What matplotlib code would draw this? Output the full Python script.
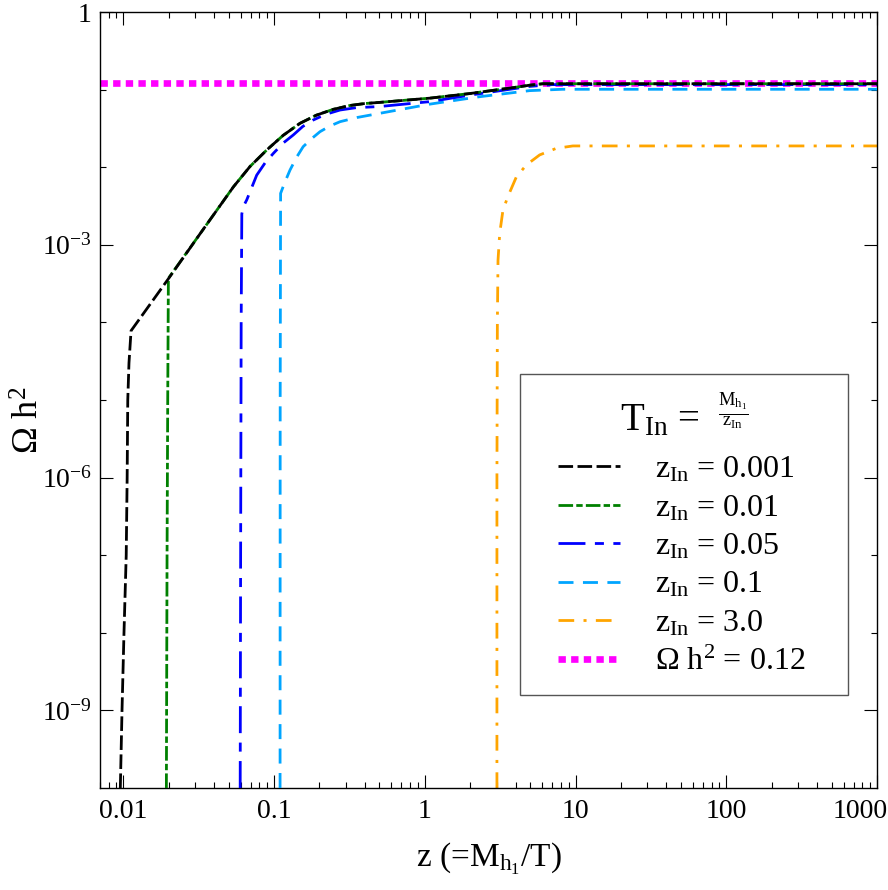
import numpy as np
import matplotlib
matplotlib.use("Agg")
import matplotlib.pyplot as plt
from matplotlib.ticker import FixedLocator, NullFormatter, LogLocator
from matplotlib.patches import Rectangle
import matplotlib.transforms as mtransforms

plt.rcParams['font.family'] = ['Liberation Serif', 'DejaVu Serif']
plt.rcParams['mathtext.fontset'] = 'custom'
plt.rcParams['mathtext.rm'] = 'Liberation Serif'
plt.rcParams['mathtext.it'] = 'Liberation Serif:italic'
plt.rcParams['mathtext.bf'] = 'Liberation Serif:bold'
plt.rcParams['lines.scale_dashes'] = False

# ---------------- data ----------------
z_001 = [0.00955, 0.0098, 0.0101, 0.01045, 0.0106, 0.0107, 0.0109, 0.01125,
         0.0200, 0.0324, 0.0538, 0.0692, 0.0895, 0.1148, 0.1486, 0.1905,
         0.247, 0.318, 0.398, 0.5, 1.08, 2.0, 3.98, 4.96, 6.07, 7.94, 100, 1000]
om_001 = [1e-10, 1e-9, 1e-8, 1e-7, 1e-6, 1e-5, 3e-5, 7.8e-5,
          3.7e-4, 1.4e-3, 5.6e-3, 0.0102, 0.0167, 0.0257, 0.0368, 0.0468,
          0.0557, 0.0624, 0.0661, 0.0684, 0.0776, 0.0891, 0.107, 0.114, 0.119,
          0.119, 0.119, 0.119]

z_01 = [0.0193, 0.0195, 0.0197, 0.0199, 0.0324, 0.0538, 0.0692, 0.0895,
        0.1148, 0.1486, 0.1905, 0.247, 0.318, 0.398, 0.5, 1.08, 2.0, 3.98,
        4.96, 6.07, 7.94, 100, 1000]
om_01 = [1e-10, 1e-7, 1e-5, 3.7e-4, 1.4e-3, 5.6e-3, 0.0102, 0.0167,
         0.0257, 0.0368, 0.0468, 0.0557, 0.0624, 0.0661, 0.0684, 0.0776,
         0.0891, 0.107, 0.114, 0.119, 0.119, 0.119, 0.119]

z_05 = [0.0596, 0.0600, 0.0605, 0.0611, 0.0625, 0.0659, 0.0767, 0.0875,
        0.0990, 0.115, 0.134, 0.155, 0.182, 0.22, 0.274, 0.35, 0.5, 1.08,
        2.0, 4.96, 7.0, 100, 1000]
om_05 = [1e-10, 1e-7, 1e-4, 2.5e-3, 3.1e-3, 3.8e-3, 7.9e-3, 0.0115,
         0.0151, 0.0205, 0.026, 0.0335, 0.0406, 0.048, 0.0546, 0.0585,
         0.0605, 0.070, 0.085, 0.110, 0.116, 0.116, 0.116]

z_1 = [0.1096, 0.1098, 0.1105, 0.1175, 0.1276, 0.1413, 0.156, 0.1778,
       0.2017, 0.2344, 0.274, 0.355, 0.503, 1.08, 2.31, 4.96, 8.2, 100, 1000]
om_1 = [1e-10, 1e-5, 4.6e-3, 6.3e-3, 9.2e-3, 0.0135, 0.0184, 0.0234,
        0.0287, 0.0339, 0.0386, 0.0437, 0.0495, 0.065, 0.081, 0.097, 0.101,
        0.101, 0.101]

z_3 = [3.01, 3.01, 3.03, 3.06, 3.14, 3.30, 3.56, 4.05, 4.72, 5.78, 7.45,
       9.60, 100, 1000]
om_3 = [1e-10, 1e-6, 1e-4, 6.3e-4, 1.4e-3, 2.8e-3, 4.2e-3, 7.5e-3, 0.0107,
        0.0144, 0.0175, 0.0188, 0.0188, 0.0188]

omega_planck = 0.12

series_labels = [r'$\mathrm{z_{In}}$ = 0.001', r'$\mathrm{z_{In}}$ = 0.01',
                 r'$\mathrm{z_{In}}$ = 0.05', r'$\mathrm{z_{In}}$ = 0.1',
                 r'$\mathrm{z_{In}}$ = 3.0', r'$\Omega$ h$^{2}$ = 0.12']

x_ticks = [0.01, 0.1, 1, 10, 100, 1000]
x_tick_labels = ['0.01', '0.1', '1', '10', '100', '1000']
y_ticks = [1e-9, 1e-6, 1e-3, 1]
y_tick_labels = [r'$\mathrm{10^{-9}}$', r'$\mathrm{10^{-6}}$', r'$\mathrm{10^{-3}}$', '1']
y_minor = [1e-8, 1e-7, 1e-5, 1e-4, 1e-2, 1e-1]

# ---------------- figure ----------------
fig = plt.figure(figsize=(8.88, 8.90), dpi=100)
ax = fig.add_axes([0.1126, 0.1146, 0.875, 0.8719])
ax.set_xscale('log')
ax.set_yscale('log')
ax.set_xlim(0.007, 1000)
ax.set_ylim(1e-10, 1)

lw = 2.0
l_mag = ax.axhline(omega_planck, color='#ff00ff', lw=4.8, dashes=(5.3, 3.8),
                   zorder=1, label=series_labels[5])
l_or, = ax.plot(z_3, om_3, color='#ffa500', lw=lw, dashes=(11.3, 6.7, 2.2, 6.7),
                zorder=2, label=series_labels[4])
l_lb, = ax.plot(z_1, om_1, color='#00a5ff', lw=lw, dashes=(10.8, 6.8),
                zorder=3, label=series_labels[3])
l_bl, = ax.plot(z_05, om_05, color='#0000ff', lw=lw, dashes=(19.4, 6.8, 6.5, 6.8),
                zorder=4, label=series_labels[2])
l_gr, = ax.plot(z_01, om_01, color='#008000', lw=lw, dashes=(10.5, 2.3, 4.6, 2.3),
                zorder=5, label=series_labels[1])
l_bk, = ax.plot(z_001, om_001, color='black', lw=lw, dashes=(10.5, 3.2),
                zorder=6, label=series_labels[0])

# ticks
ax.set_xticks(x_ticks)
ax.set_xticklabels(x_tick_labels)
ax.xaxis.set_minor_locator(LogLocator(base=10, subs=np.arange(2, 10), numticks=30))
ax.xaxis.set_minor_formatter(NullFormatter())
ax.yaxis.set_major_locator(FixedLocator(y_ticks))
ax.set_yticklabels(y_tick_labels)
ax.yaxis.set_minor_locator(FixedLocator(y_minor))
ax.yaxis.set_minor_formatter(NullFormatter())
ax.tick_params(which='both', direction='in', top=True, right=True, width=0.8)
ax.tick_params(which='major', length=9.4)
ax.tick_params(which='minor', length=4.3)
ax.tick_params(axis='x', labelsize=20, pad=8)
ax.tick_params(axis='y', labelsize=20, pad=6)
for s in ax.spines.values():
    s.set_linewidth(1.0)

# shift last x label left (as in reference)
lbls = ax.get_xticklabels()
off = mtransforms.ScaledTranslation(-0.17, 0, fig.dpi_scale_trans)
lbls[-1].set_transform(lbls[-1].get_transform() + off)

ax.set_xlabel(r'z (=M$_{\mathrm{h_1}}$/T)', fontsize=24, labelpad=12)
ax.set_ylabel(r'$\Omega$ h$^{2}$', fontsize=26)
ax.yaxis.set_label_coords(-0.068, 0.474)

# legend frame
ax.add_patch(Rectangle((0.5405, 0.1198), 0.4222, 0.4137, transform=ax.transAxes,
                       fill=True, facecolor='white', edgecolor='#555555', lw=1.0,
                       zorder=10))
handles = [l_bk, l_gr, l_bl, l_lb, l_or, l_mag]
leg = ax.legend(handles, series_labels, loc='upper left',
                bbox_to_anchor=(0.5894, 0.429), frameon=False, fontsize=23,
                handlelength=1.93, handletextpad=1.1, labelspacing=0.28,
                borderpad=0, borderaxespad=0)
leg.set_zorder(11)

ax.text(0.772, 0.4613, r'$\mathrm{T_{In}}$ =', transform=ax.transAxes,
        fontsize=28, ha='right', va='baseline', zorder=12)
ax.text(0.8147, 0.4858, r'$\frac{\mathrm{M_{h_1}}}{\mathrm{z_{In}}}$',
        transform=ax.transAxes, fontsize=19, ha='center', va='center', zorder=12)

fig.savefig('out.png', dpi=100)
